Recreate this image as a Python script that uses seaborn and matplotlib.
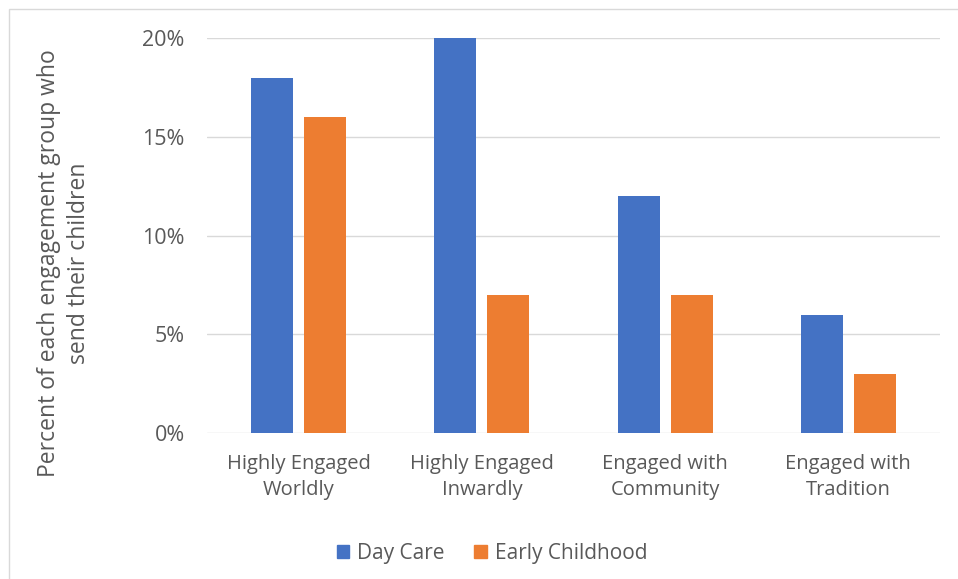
import matplotlib
matplotlib.use("Agg")
import matplotlib.pyplot as plt
import matplotlib.patches as mpatches
import pandas as pd
import seaborn as sns

# ── data ───────────────────────────────────────────────────────────────────────
groups = [
    "Highly Engaged\nWorldly",
    "Highly Engaged\nInwardly",
    "Engaged with\nCommunity",
    "Engaged with\nTradition",
]
day_care = [18, 20, 12, 6]
early_childhood = [16, 7, 7, 3]
series = ["Day Care", "Early Childhood"]
colors = ["#4472C4", "#ED7D31"]
y_ticks = [0, 5, 10, 15, 20]

df = pd.DataFrame({
    "group": groups * 2,
    "series": [series[0]] * 4 + [series[1]] * 4,
    "value": day_care + early_childhood,
})

# ── style ──────────────────────────────────────────────────────────────────────
sns.set_style("white")
plt.rcParams["font.family"] = ["Open Sans", "DejaVu Sans"]
text_grey = "#595959"

fig = plt.figure(figsize=(9.58, 5.79), dpi=100)
ax = fig.add_axes([207 / 958, 1 - 433 / 579, (940 - 207) / 958, (433 - 38) / 579])

sns.barplot(
    data=df, x="group", y="value", hue="series",
    palette=colors, width=0.58, gap=0.21, ax=ax,
    saturation=1, legend=False, linewidth=0,
)

ax.set_ylim(0, 20)
ax.set_yticks(y_ticks)
ax.set_yticklabels([f"{t}%" for t in y_ticks])
ax.set_xlim(-0.5, 3.5)
ax.yaxis.grid(True, color="#D9D9D9", lw=1)
ax.set_axisbelow(True)
for s in ax.spines.values():
    s.set_visible(False)
ax.tick_params(axis="both", length=0, colors=text_grey)
ax.tick_params(axis="y", pad=16, labelsize=15.5)
ax.tick_params(axis="x", pad=15, labelsize=14.5)
for lbl in ax.get_xticklabels():
    lbl.set_linespacing(1.4)
ax.set_xlabel("")
ax.set_ylabel("Percent of each engagement group who\nsend their children",
              fontsize=16.5, color=text_grey, linespacing=1.3)
ax.yaxis.label.set_va("center")
ax.yaxis.set_label_coords((64 - 207) / 733, (433 - 263) / 395)

# legend
handles = [mpatches.Patch(color=c, label=l) for c, l in zip(colors, series)]
fig.legend(handles=handles, loc="center", bbox_to_anchor=(492 / 958, 1 - 553 / 579),
           ncol=2, frameon=False, fontsize=15, handlelength=0.6,
           handleheight=0.6, columnspacing=1.4, handletextpad=0.4,
           labelcolor=text_grey)

# chart-area border (extends past right and bottom edges)
fig.patches.append(mpatches.Rectangle(
    (9 / 958, -0.1), 1.2, 1 - 9 / 579 + 0.1, transform=fig.transFigure,
    fill=False, edgecolor="#D9D9D9", lw=1))

fig.savefig("out.png", dpi=100)
